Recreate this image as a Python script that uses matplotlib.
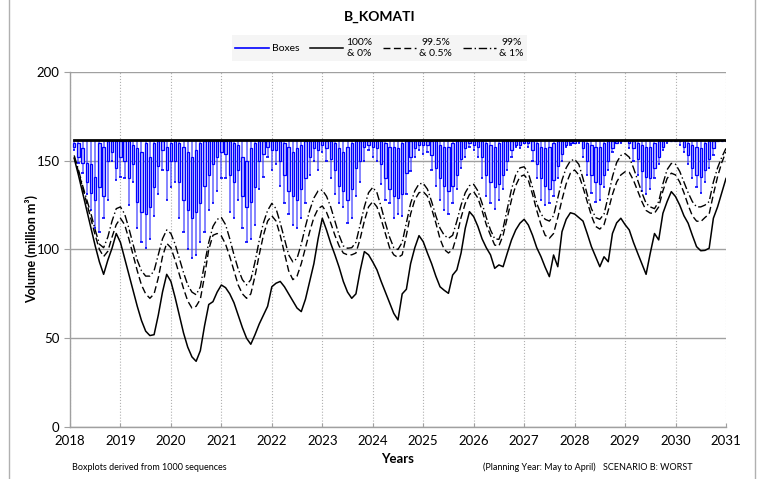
import numpy as np
import matplotlib
matplotlib.use("Agg")
import matplotlib.pyplot as plt
from matplotlib.lines import Line2D

plt.rcParams["font.family"] = ["Lato", "DejaVu Sans"]

# monthly values, May 2018 .. Apr 2031 (156 months)
full_supply = 161.7

wmin = [
    156, 149, 143, 131, 122, 112, 110, 118, 128, 150, 139, 141,
    140, 125, 138, 112, 104, 101, 106, 119, 131, 145, 128, 135,
    138, 118, 110, 100, 95, 97, 104, 110, 122, 126, 133, 140,
    140, 121, 118, 128, 112, 104, 106, 114, 134, 141, 152, 145,
    148, 136, 126, 120, 114, 112, 118, 126, 142, 150, 145, 155,
    150, 140, 131, 126, 124, 115, 118, 130, 138, 150, 156, 152,
    150, 137, 128, 126, 118, 120, 119, 131, 144, 152, 156, 154,
    155, 145, 136, 128, 122, 120, 126, 134, 146, 152, 158, 156,
    152, 140, 130, 126, 123, 128, 134, 145, 152, 158, 157, 160,
    158, 150, 140, 128, 125, 126, 130, 140, 150, 158, 159, 160,
    160, 152, 142, 132, 127, 128, 135, 145, 155, 160, 160, 161,
    157, 150, 142, 133, 131, 134, 140, 148, 156, 160, 161, 161,
    159, 155, 148, 140, 135, 132, 138, 146, 153, 161, 161, 161,
]
q1 = [
    158, 152, 149, 138, 132, 128, 135, 130, 150, 155, 146, 152,
    150, 140, 148, 127, 121, 120, 124, 135, 147, 156, 145, 150,
    150, 138, 128, 122, 118, 121, 126, 136, 142, 148, 152, 155,
    154, 142, 138, 145, 130, 124, 127, 135, 150, 154, 158, 156,
    156, 150, 142, 133, 130, 128, 134, 140, 152, 157, 156, 159,
    157, 151, 145, 136, 133, 128, 134, 146, 150, 158, 159, 158,
    157, 148, 140, 134, 130, 129, 131, 143, 152, 157, 159, 159,
    159, 153, 146, 140, 136, 133, 136, 142, 151, 157, 160, 159,
    158, 152, 142, 138, 135, 137, 142, 150, 156, 159, 159, 160,
    160, 156, 148, 140, 136, 134, 139, 147, 154, 159, 160, 160,
    161, 157, 150, 142, 138, 137, 142, 150, 157, 160, 161, 161,
    160, 157, 151, 144, 141, 140, 146, 152, 158, 161, 161, 161,
    161, 158, 153, 146, 142, 141, 145, 151, 157, 161, 161, 161,
]
q3 = [
    160, 160, 157, 149, 148, 141, 160, 158, 161, 161, 161, 161,
    161, 161, 159, 157, 155, 160, 152, 160, 161, 161, 158, 160,
    161, 160, 158, 155, 152, 156, 160, 161, 161, 161, 161, 161,
    161, 161, 160, 159, 152, 150, 157, 160, 161, 161, 161, 161,
    161, 161, 160, 158, 155, 157, 159, 161, 161, 161, 161, 161,
    161, 161, 160, 157, 155, 158, 160, 161, 161, 161, 161, 161,
    161, 161, 160, 158, 158, 157, 160, 161, 161, 161, 161, 161,
    161, 161, 161, 159, 158, 158, 160, 161, 161, 161, 161, 161,
    161, 161, 160, 159, 158, 160, 161, 161, 161, 161, 161, 161,
    161, 161, 160, 158, 157, 158, 160, 161, 161, 161, 161, 161,
    161, 161, 160, 159, 158, 158, 160, 161, 161, 161, 161, 161,
    161, 161, 160, 159, 158, 158, 160, 161, 161, 161, 161, 161,
    161, 161, 160, 159, 158, 157, 160, 161, 161, 161, 161, 161,
]
low_100 = [
    151.4, 142, 132, 122, 112, 102, 93, 86, 94, 100.7, 109, 104,
    95, 86, 77, 68, 60, 54, 51.5, 52, 63, 76, 86, 82,
    73, 63, 53, 45, 39.5, 37, 43, 57, 69, 70.6, 76, 80,
    78.5, 75, 70, 63, 56, 50, 46.6, 52, 58, 63, 68, 79,
    81, 82, 79, 75, 71, 67, 65, 72, 82, 92, 106, 117.6,
    111, 103.5, 97, 90, 82, 76, 72.5, 75, 88, 98.8, 97, 93,
    88.5, 82, 76, 70, 64, 60.3, 75, 77.6, 92, 101, 107.8, 104.4,
    98, 92, 85, 79, 77, 75.3, 85.6, 88.5, 98, 112, 121.3, 118.5,
    113, 106, 101, 97, 89.4, 91.3, 90.3, 98, 105.4, 111, 114.8, 117,
    113.8, 108, 101, 96, 90, 84.7, 96.9, 90.3, 110, 117, 120.7, 120,
    118, 116, 109, 101.6, 96, 90.3, 95.9, 93.1, 109, 115, 117.6, 114,
    111, 104, 97.9, 92, 86, 98, 109, 105.4, 120.4, 127, 132.6, 129.8,
    125, 119, 114.8, 108, 101.6, 99.3, 99.5, 100.7, 117.6, 124, 132, 140,
]
low_995 = [
    152, 144, 135, 126, 117, 108, 100, 96, 99, 107, 114, 117.6,
    114, 106, 97, 88, 80, 75, 72.5, 75, 84, 96, 103.5, 101,
    94, 86, 78, 71, 67, 68, 72, 85, 100, 108, 109, 107.6,
    103, 96, 88, 80, 75, 72.5, 75, 85, 97, 108, 116, 119,
    116, 108, 98, 88, 83, 85, 92, 101, 110, 118, 123, 124.5,
    121, 115, 108, 102, 98, 97, 97, 98, 106, 116, 124, 127,
    124, 117, 109, 101, 97, 95.5, 97, 108, 120, 128, 132, 132.6,
    130, 123, 115, 106, 100, 98, 100, 108, 118, 126, 131, 132.6,
    129, 122, 114, 108, 102.5, 102, 108, 118, 128, 136, 141, 142,
    139, 131, 122, 114, 108, 106.3, 109, 118, 128, 137, 143, 144.8,
    142, 135, 127, 119, 113, 111.5, 114, 122, 131, 138, 142, 143.8,
    143.5, 139, 133, 127, 122, 120.5, 120.4, 124, 133, 140, 143, 142,
    138, 132, 125, 119, 116, 115.7, 118, 120, 131, 141, 149, 155,
]
low_99 = [
    153, 145, 136, 128, 120, 111, 103, 101, 107, 116, 123, 124,
    120, 112, 103, 94, 88, 85, 85, 88, 97, 106, 111, 109,
    103, 95, 87, 80, 76, 74.5, 79, 92, 104, 113, 117, 118,
    114, 106, 97, 89, 83, 80, 83, 93, 105, 115, 122, 126,
    123, 115, 106, 97, 93, 95, 103, 113, 122, 129, 133, 133.5,
    130, 124, 116, 108, 102, 100.7, 101, 104, 114, 124, 132, 135,
    132, 124, 115, 107, 101, 100, 104, 115, 126, 133, 137, 137.3,
    134, 127, 119, 112, 108, 106.3, 108, 116, 125, 132, 136, 136.7,
    133, 126, 118, 111, 106, 105.7, 112, 123, 134, 142, 146, 146.6,
    143, 135, 126, 120, 117, 116, 119, 129, 139, 146, 150, 150.8,
    148, 140, 131, 123, 118, 117, 120, 130, 141, 149, 153, 154,
    152, 146, 139, 132, 126, 124, 123, 127, 137, 145, 148.5, 148,
    144, 138, 132, 127, 124, 124, 125, 127, 138, 146, 152, 157,
]

months = np.arange(1, len(wmin) + 1)
x = 2018 + months / 12.0
top = np.full(len(x), full_supply)

fig = plt.figure(figsize=(7.59, 4.79), dpi=100)
ax = fig.add_axes([0.0922, 0.1086, 0.8643, 0.7411])

# boxes: whiskers outside the box, box drawn hollow with a pale fill
bw = 0.55 / 12
ax.vlines(x, wmin, q1, color="#3c3cff", lw=1.1, alpha=0.8, zorder=2)
ax.vlines(x, q3, top, color="#3c3cff", lw=1.1, alpha=0.8, zorder=2)
ax.hlines(wmin, x - bw / 2, x + bw / 2, color="#0000ff", lw=1.2, zorder=3)
ax.bar(x, np.array(q3) - np.array(q1), bottom=q1, width=bw,
       facecolor="#b8b8ff", edgecolor="#0000ff", lw=0.9, zorder=3)

# percentile lines
ax.plot(x, top, color="black", lw=2.0, zorder=4)
ax.plot(x, low_100, color="black", lw=1.1, zorder=4)
ax.plot(x, low_995, color="black", lw=1.0, ls=(0, (5, 2.5)), zorder=4)
ax.plot(x, low_99, color="black", lw=1.0, ls=(0, (6, 2, 1, 2)), zorder=4)

ax.set_xlim(2018, 2031)
ax.set_ylim(0, 200)
ax.set_xticks(np.arange(2018, 2032))
ax.set_yticks([0, 50, 100, 150, 200])
ax.tick_params(axis="x", direction="in", length=3, color="#a0a0a0", labelsize=9.5, pad=6)
ax.tick_params(axis="y", direction="out", length=4, color="#a0a0a0", labelsize=9.5)
ax.yaxis.grid(True, color="#a0a0a0", lw=1.0, zorder=0)
ax.xaxis.grid(True, color="#b0b0b0", lw=0.8, ls=":", zorder=0)
ax.set_axisbelow(True)
for s in ["top", "right"]:
    ax.spines[s].set_visible(False)
for s in ["left", "bottom"]:
    ax.spines[s].set_color("#a0a0a0")
    ax.spines[s].set_linewidth(1.0)

ax.set_ylabel("Volume (million m³)", fontsize=9, fontweight="bold", labelpad=-1)
ax.set_xlabel("Years", fontsize=9.5, fontweight="bold", labelpad=4)

fig.text(0.5, 0.965, "B_KOMATI", ha="center", va="center", fontsize=10, fontweight="bold")
fig.text(0.095, 0.025, "Boxplots derived from 1000 sequences", fontsize=6.5, va="center")
fig.text(0.636, 0.025, "(Planning Year: May to April)", fontsize=6.5, va="center")
fig.text(0.794, 0.025, "SCENARIO B: WORST", fontsize=6.5, va="center")

handles = [
    Line2D([], [], color="#0000ff", lw=1.2),
    Line2D([], [], color="black", lw=1.1),
    Line2D([], [], color="black", lw=1.0, ls=(0, (5, 2.5))),
    Line2D([], [], color="black", lw=1.0, ls=(0, (6, 2, 1, 2))),
]
labels = ["Boxes", "100%\n& 0%", "99.5%\n& 0.5%", "99%\n& 1%"]
leg = fig.legend(handles, labels, loc="center", bbox_to_anchor=(0.5, 0.9), ncol=4,
                 fontsize=7.5, handlelength=3.2, columnspacing=1.0, handletextpad=0.3,
                 frameon=True, fancybox=False, borderpad=0.3, labelspacing=0.2)
leg.get_frame().set_facecolor("#f3f3f3")
leg.get_frame().set_edgecolor("none")
for t in leg.get_texts():
    t.set_multialignment("center")

# outer frame lines
fig.add_artist(Line2D([0.012, 0.012], [0, 1], color="#b0b0b0", lw=1.0))
fig.add_artist(Line2D([0.995, 0.995], [0, 1], color="#b0b0b0", lw=1.0))

fig.savefig("out.png", dpi=100)
